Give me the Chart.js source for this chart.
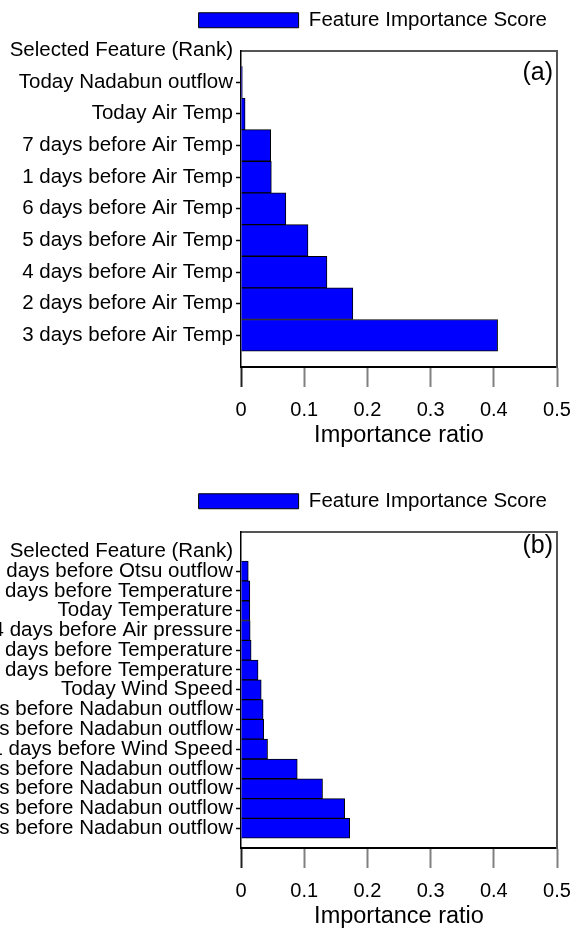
<!DOCTYPE html>
<html><head><meta charset="utf-8">
<script src="https://cdn.jsdelivr.net/npm/chart.js@4"></script>
<style>
html,body{margin:0;padding:0;background:#fff;width:574px;height:929px;overflow:hidden}
.wrap{position:absolute;left:0;width:574px;height:449px}
</style></head><body>
<div class="wrap" style="top:0"><canvas id="ca"></canvas></div>
<div class="wrap" style="top:481px"><canvas id="cb"></canvas></div>
<script>
const seriesName = 'Feature Importance Score';
const xTitle = 'Importance ratio';
const xTicks = [0, 0.1, 0.2, 0.3, 0.4, 0.5];

const categoriesA = ['Selected Feature (Rank)', 'Today Nadabun outflow', 'Today Air Temp',
  '7 days before Air Temp', '1 days before Air Temp', '6 days before Air Temp',
  '5 days before Air Temp', '4 days before Air Temp', '2 days before Air Temp',
  '3 days before Air Temp', ''];
const valuesA = [null, 0.002, 0.0065, 0.047, 0.048, 0.071, 0.106, 0.136, 0.177, 0.406, null];

const categoriesB = ['', 'Selected Feature (Rank)', '6 days before Otsu outflow',
  '3 days before Temperature', 'Today Temperature', '4 days before Air pressure',
  '2 days before Temperature', '1 days before Temperature', 'Today Wind Speed',
  '6 days before Nadabun outflow', '5 days before Nadabun outflow', '1 days before Wind Speed',
  '4 days before Nadabun outflow', '3 days before Nadabun outflow',
  '2 days before Nadabun outflow', '1 days before Nadabun outflow', ''];
const valuesB = [null, null, 0.0115, 0.014, 0.014, 0.0145, 0.016, 0.027, 0.032, 0.035,
  0.036, 0.042, 0.089, 0.129, 0.164, 0.172, null];

Chart.defaults.font.family = '"Liberation Sans", Arial, sans-serif';
Chart.defaults.color = '#000';

const panelPlugin = {
  id: 'panelLabel',
  afterDraw(chart, args, opts) {
    const {ctx, chartArea} = chart;
    ctx.save();
    ctx.font = '25px "Liberation Sans", Arial, sans-serif';
    ctx.fillStyle = '#000';
    ctx.textAlign = 'right';
    ctx.textBaseline = 'middle';
    ctx.fillText(opts.text, chartArea.right - 4, chartArea.top + opts.dy);
    ctx.restore();
  }
};

function makeChart(id, cats, vals, panel, panelDy) {
  const hidden = new Set(['', 'Selected Feature (Rank)']);
  return new Chart(document.getElementById(id), {
    type: 'bar',
    data: {
      labels: cats,
      datasets: [{
        label: seriesName, data: vals,
        backgroundColor: '#0000ff', borderColor: '#000', borderWidth: 1,
        barPercentage: 1, categoryPercentage: 1
      }]
    },
    options: {
      indexAxis: 'y', responsive: true, maintainAspectRatio: false, animation: false,
      layout: {padding: {top: 0, right: 17, bottom: 10, left: 0}},
      plugins: {
        legend: {display: true, position: 'top', align: 'end',
          labels: {boxWidth: 100, boxHeight: 15, font: {size: 20.5}, color: '#000', padding: 10}},
        tooltip: {enabled: false},
        panelLabel: {text: panel, dy: panelDy}
      },
      scales: {
        x: {
          type: 'linear', position: 'bottom', min: 0, max: 0.5,
          afterBuildTicks: s => { s.ticks = xTicks.map(v => ({value: v})); },
          ticks: {font: {size: 20, lineHeight: '46px'}, color: '#000', padding: 0, callback: v => String(v)},
          grid: {drawOnChartArea: false, drawTicks: true, tickLength: 20, tickWidth: 2,
            tickColor: c => c.index === 0 ? '#222' : '#808080'},
          border: {display: true, color: '#000', width: 2},
          title: {display: true, text: xTitle, font: {size: 23.5, lineHeight: '6px'}, color: '#000',
            padding: {top: 0, bottom: 0}}
        },
        xTop: {
          type: 'linear', position: 'top', min: 0, max: 0.5,
          ticks: {display: false}, grid: {display: false, drawTicks: false},
          border: {display: true, color: '#555', width: 2},
          afterFit: s => { s.height = 10; }
        },
        y: {
          type: 'category', position: 'left', offset: false,
          ticks: {autoSkip: false, font: {size: 20.5}, color: '#000', padding: 3},
          grid: {drawOnChartArea: false, offset: false, tickLength: 5, tickWidth: 1.5,
            tickColor: c => hidden.has(cats[c.index]) ? 'rgba(0,0,0,0)' : '#000'},
          border: {display: true, color: '#000', width: 1.5},
          afterFit: s => { s.width = 241; }
        },
        yRight: {
          type: 'linear', position: 'right', min: 0, max: 1,
          ticks: {display: false}, grid: {display: false, drawTicks: false},
          border: {display: true, color: '#555', width: 2},
          afterFit: s => { s.width = 0; }
        }
      }
    },
    plugins: [panelPlugin]
  });
}

makeChart('ca', categoriesA, valuesA, '(a)', 23);
makeChart('cb', categoriesB, valuesB, '(b)', 15);
</script>
</body></html>
